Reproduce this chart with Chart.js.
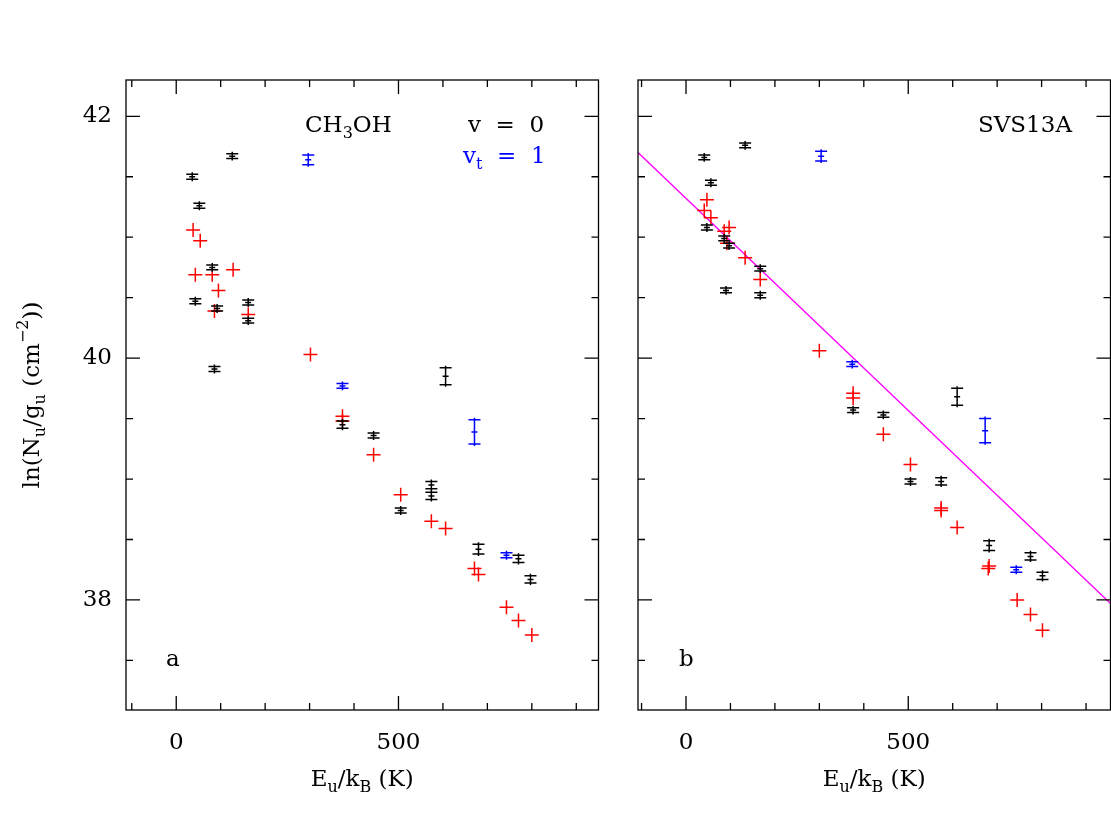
<!DOCTYPE html>
<html>
<head>
<meta charset="utf-8">
<script src="https://cdn.jsdelivr.net/npm/chart.js@4/dist/chart.umd.min.js"></script>
<style>
  body { margin: 0; background: #fff; overflow: hidden; }
  .panel { position: absolute; top: 0; width: 607px; height: 828px; }
</style>
</head>
<body>
<div class="panel" style="left:0"><canvas id="chartA"></canvas></div>
<div class="panel" style="left:512px"><canvas id="chartB"></canvas></div>
<script>
// values: energy (K), ln(N/g), error
const aBlackX = [36, 52, 126, 81, 43, 92, 162, 162, 86, 374, 444, 505, 574, 574, 606, 680, 770, 797];
const aBlackY = [41.50, 41.26, 41.67, 40.75, 40.47, 40.41, 40.46, 40.31, 39.91, 39.45, 39.36, 38.74, 38.95, 38.86, 39.85, 38.42, 38.34, 38.17];
const aBlackErr = [0.02, 0.02, 0.02, 0.02, 0.02, 0.02, 0.02, 0.02, 0.02, 0.03, 0.02, 0.02, 0.03, 0.03, 0.07, 0.04, 0.03, 0.03];
const aBlueX = [297, 374, 671, 743];
const aBlueY = [41.64, 39.77, 39.39, 38.37];
const aBlueErr = [0.04, 0.02, 0.10, 0.02];
const aRedX = [38, 54, 43, 81, 128, 95, 86, 162, 302, 374, 374, 444, 505, 574, 606, 671, 680, 743, 770, 800];
const aRedY = [41.06, 40.97, 40.69, 40.69, 40.73, 40.56, 40.39, 40.36, 40.03, 39.52, 39.48, 39.20, 38.87, 38.65, 38.59, 38.26, 38.21, 37.94, 37.83, 37.71];

const bBlackX = [41, 133, 56, 47, 86, 97, 90, 167, 167, 376, 444, 505, 574, 610, 682, 775, 802];
const bBlackY = [41.66, 41.76, 41.45, 41.08, 40.99, 40.93, 40.56, 40.74, 40.52, 39.57, 39.53, 38.98, 38.98, 39.68, 38.45, 38.36, 38.20];
const bBlackErr = [0.02, 0.02, 0.02, 0.02, 0.02, 0.02, 0.02, 0.02, 0.02, 0.02, 0.02, 0.02, 0.03, 0.07, 0.04, 0.03, 0.03];
const bBlueX = [304, 374, 673, 743];
const bBlueY = [41.67, 39.95, 39.40, 38.25];
const bBlueErr = [0.04, 0.02, 0.10, 0.02];
const bRedX = [47, 41, 56, 97, 86, 92, 133, 167, 300, 376, 376, 444, 505, 574, 574, 610, 682, 680, 745, 775, 802];
const bRedY = [41.31, 41.22, 41.16, 41.08, 41.05, 40.95, 40.83, 40.65, 40.06, 39.71, 39.67, 39.37, 39.12, 38.74, 38.76, 38.60, 38.28, 38.26, 38.00, 37.88, 37.75];

const fitX = [-108, 955];
const fitY = [41.70, 37.97];

const FONT = "'DejaVu Serif', serif";

function pts(xs, ys) { return xs.map((x, i) => ({ x: x, y: ys[i] })); }

const errorBars = {
  id: 'errorBars',
  afterDatasetsDraw(chart) {
    const ctx = chart.ctx, xs = chart.scales.x, ys = chart.scales.y;
    chart.data.datasets.forEach(ds => {
      if (!ds.err) return;
      ctx.save();
      ctx.strokeStyle = ds.borderColor;
      ctx.lineWidth = 1.5;
      ds.data.forEach((p, i) => {
        const px = xs.getPixelForValue(p.x);
        const y1 = ys.getPixelForValue(p.y - ds.err[i]);
        const y2 = ys.getPixelForValue(p.y + ds.err[i]);
        const yc = ys.getPixelForValue(p.y);
        ctx.beginPath();
        ctx.moveTo(px, y1 + 2); ctx.lineTo(px, y2 - 2);
        ctx.moveTo(px - 6, y1); ctx.lineTo(px + 6, y1);
        ctx.moveTo(px - 6, y2); ctx.lineTo(px + 6, y2);
        ctx.moveTo(px - 3, yc); ctx.lineTo(px + 3, yc);
        ctx.stroke();
      });
      ctx.restore();
    });
  }
};

const frame = {
  id: 'frame',
  afterDraw(chart, args, opts) {
    const ctx = chart.ctx, a = chart.chartArea, xs = chart.scales.x, ys = chart.scales.y;
    ctx.save();
    ctx.strokeStyle = '#000';
    ctx.lineWidth = 1.3;
    ctx.strokeRect(a.left, a.top, a.right - a.left, a.bottom - a.top);
    ctx.beginPath();
    for (let v = -100; v <= 900; v += 100) {
      const px = xs.getPixelForValue(v);
      if (px < a.left || px > a.right) continue;
      const len = v % 500 === 0 ? 14 : 7;
      ctx.moveTo(px, a.bottom); ctx.lineTo(px, a.bottom - len);
      ctx.moveTo(px, a.top); ctx.lineTo(px, a.top + len);
    }
    for (let v = 37.5; v <= 42; v += 0.5) {
      const py = ys.getPixelForValue(v);
      const len = v % 2 === 0 ? 14 : 7;
      ctx.moveTo(a.left, py); ctx.lineTo(a.left + len, py);
      ctx.moveTo(a.right, py); ctx.lineTo(a.right - len, py);
    }
    ctx.stroke();
    // tick labels
    ctx.fillStyle = '#000';
    ctx.font = '23px ' + FONT;
    ctx.textAlign = 'center';
    ctx.textBaseline = 'top';
    [0, 500].forEach(v => ctx.fillText(String(v), xs.getPixelForValue(v), a.bottom + 22));
    if (opts.yLabels) {
      ctx.textAlign = 'right';
      ctx.textBaseline = 'middle';
      [38, 40, 42].forEach(v => ctx.fillText(String(v), a.left - 14, ys.getPixelForValue(v)));
    }
    // x title with subscripts
    const cx = (a.left + a.right) / 2;
    drawRich(ctx, [['E', 0], ['u', 1], ['/k', 0], ['B', 1], [' (K)', 0]], cx, 780, true);
    if (opts.yLabels) {
      ctx.save();
      ctx.translate(33, (a.top + a.bottom) / 2);
      ctx.rotate(-Math.PI / 2);
      drawRich(ctx, [['ln(N', 0], ['u', 1], ['/g', 0], ['u', 1], [' (cm', 0], ['−2', 2], ['))', 0]], 0, 0, true);
      ctx.restore();
    }
    (opts.texts || []).forEach(t => {
      ctx.fillStyle = t.color || '#000';
      drawRich(ctx, t.parts, t.x, t.y, false);
    });
    ctx.restore();
  }
};

// parts: [text, 0 normal | 1 subscript | 2 superscript]
function drawRich(ctx, parts, x, y, centered) {
  const big = '23px ' + FONT, small = '16px ' + FONT;
  let w = 0;
  parts.forEach(p => { ctx.font = p[1] ? small : big; w += ctx.measureText(p[0]).width; });
  let cx = centered ? x - w / 2 : x;
  ctx.textAlign = 'left';
  ctx.textBaseline = 'middle';
  parts.forEach(p => {
    ctx.font = p[1] ? small : big;
    const dy = p[1] === 1 ? 8 : p[1] === 2 ? -9 : 0;
    ctx.fillText(p[0], cx, y + dy);
    cx += ctx.measureText(p[0]).width;
  });
}

function makeChart(id, black, blue, red, extra, frameOpts) {
  const datasets = [
    { data: pts(black[0], black[1]), err: black[2], borderColor: '#000', pointRadius: 0, showLine: false },
    { data: pts(blue[0], blue[1]), err: blue[2], borderColor: '#0000ff', pointRadius: 0, showLine: false },
    { data: pts(red[0], red[1]), borderColor: '#ff0000', pointStyle: 'cross', pointRadius: 7, borderWidth: 1.5, showLine: false }
  ].concat(extra);
  return new Chart(document.getElementById(id), {
    type: 'scatter',
    data: { datasets: datasets },
    options: {
      responsive: true,
      maintainAspectRatio: false,
      animation: false,
      layout: { padding: { left: 0, right: 2, top: 80, bottom: 0 } },
      plugins: { legend: { display: false }, tooltip: { enabled: false }, frame: frameOpts },
      scales: {
        x: { type: 'linear', min: frameOpts.xmin, max: frameOpts.xmax, grid: { display: false }, border: { display: false },
             ticks: { display: false }, afterFit(s) { s.height = 118; } },
        y: { type: 'linear', min: 37.09, max: 42.30, grid: { display: false }, border: { display: false },
             ticks: { display: false }, afterFit(s) { s.width = 126; } }
      }
    },
    plugins: [errorBars, frame]
  });
}

makeChart('chartA', [aBlackX, aBlackY, aBlackErr], [aBlueX, aBlueY, aBlueErr], [aRedX, aRedY], [], {
  xmin: -113, xmax: 950, yLabels: true,
  texts: [
    { x: 305, y: 126, parts: [['CH', 0], ['3', 1], ['OH', 0]] },
    { x: 468, y: 126, parts: [['v  =  0', 0]] },
    { x: 463, y: 157, color: '#0000ff', parts: [['v', 0], ['t', 1], ['  =  1', 0]] },
    { x: 166, y: 660, parts: [['a', 0]] }
  ]
});

makeChart('chartB', [bBlackX, bBlackY, bBlackErr], [bBlueX, bBlueY, bBlueErr], [bRedX, bRedY], [
  { data: pts(fitX, fitY), borderColor: '#ff00ff', borderWidth: 1.3, pointRadius: 0, showLine: true, type: 'line' }
], {
  xmin: -108, xmax: 955, yLabels: false,
  texts: [
    { x: 466, y: 126, parts: [['SVS13A', 0]] },
    { x: 167, y: 660, parts: [['b', 0]] }
  ]
});
</script>
</body>
</html>
